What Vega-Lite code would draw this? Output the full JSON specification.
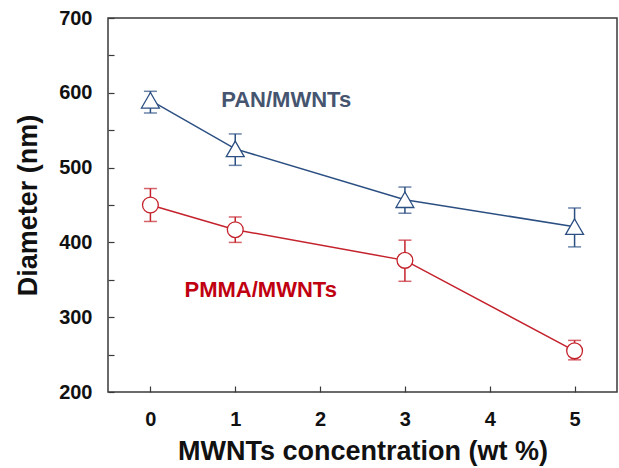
{
  "$schema": "https://vega.github.io/schema/vega-lite/v6.json",
  "width": 509,
  "height": 374,
  "autosize": {"type": "none"},
  "padding": {"left": 108, "top": 18, "right": 2, "bottom": 76},
  "background": "white",
  "config": {
    "view": {"stroke": "#3a3a3a", "strokeWidth": 1.5},
    "font": "Liberation Sans"
  },
  "datasets": {
    "pts": [
      {"series": "PAN/MWNTs", "conc": 0, "d": 590, "lo": 573, "hi": 602},
      {"series": "PAN/MWNTs", "conc": 1, "d": 525, "lo": 503, "hi": 545},
      {"series": "PAN/MWNTs", "conc": 3, "d": 457, "lo": 439, "hi": 474},
      {"series": "PAN/MWNTs", "conc": 5, "d": 421, "lo": 394, "hi": 446},
      {"series": "PMMA/MWNTs", "conc": 0, "d": 450, "lo": 428, "hi": 472},
      {"series": "PMMA/MWNTs", "conc": 1, "d": 417, "lo": 400, "hi": 434},
      {"series": "PMMA/MWNTs", "conc": 3, "d": 376, "lo": 348, "hi": 403},
      {"series": "PMMA/MWNTs", "conc": 5, "d": 255, "lo": 243, "hi": 269}
    ],
    "labels": [
      {"series": "PAN/MWNTs", "conc": 1.6, "d": 590},
      {"series": "PMMA/MWNTs", "conc": 1.3, "d": 336}
    ]
  },
  "encoding": {
    "x": {
      "field": "conc", "type": "quantitative",
      "scale": {"domain": [-0.5, 5.5], "nice": false, "zero": false},
      "axis": {
        "title": "MWNTs concentration (wt %)",
        "values": [0, 0.5, 1, 1.5, 2, 2.5, 3, 3.5, 4, 4.5, 5],
        "format": "d",
        "labelExpr": "datum.value % 1 === 0 ? datum.label : ''",
        "grid": false, "domain": false,
        "tickSize": -6, "tickColor": "#3a3a3a", "tickWidth": 1.2,
        "labelPadding": 23, "labelFontSize": 20, "labelFontWeight": "bold", "labelColor": "#111",
        "titleFontSize": 27, "titleFontWeight": "bold", "titleColor": "#111", "titlePadding": 9
      }
    },
    "y": {
      "field": "d", "type": "quantitative",
      "scale": {"domain": [200, 700], "nice": false, "zero": false},
      "axis": {
        "title": "Diameter (nm)",
        "values": [200, 250, 300, 350, 400, 450, 500, 550, 600, 650, 700],
        "labelExpr": "datum.value % 100 === 0 ? datum.label : ''",
        "grid": false, "domain": false,
        "tickSize": -6, "tickColor": "#3a3a3a", "tickWidth": 1.2,
        "labelPadding": 22, "labelFontSize": 20, "labelFontWeight": "bold", "labelColor": "#111",
        "titleFontSize": 27, "titleFontWeight": "bold", "titleColor": "#111", "titlePadding": 16
      }
    },
    "color": {
      "field": "series", "type": "nominal",
      "scale": {"domain": ["PAN/MWNTs", "PMMA/MWNTs"], "range": ["#2b4f82", "#c4222c"]},
      "legend": null
    }
  },
  "layer": [
    {
      "data": {"name": "pts"},
      "mark": {"type": "line", "strokeWidth": 1.5},
      "encoding": {"detail": {"field": "series"}}
    },
    {
      "data": {"name": "pts"},
      "mark": {"type": "errorbar", "ticks": {"size": 13}, "thickness": 1.5},
      "encoding": {
        "y": {"field": "lo", "type": "quantitative"},
        "y2": {"field": "hi"}
      }
    },
    {
      "data": {"name": "pts"},
      "mark": {"type": "point", "filled": true, "fill": "white", "strokeWidth": 1.3, "opacity": 1},
      "encoding": {
        "shape": {
          "field": "series", "type": "nominal",
          "scale": {"domain": ["PAN/MWNTs", "PMMA/MWNTs"], "range": ["triangle-up", "circle"]},
          "legend": null
        },
        "size": {
          "field": "series", "type": "nominal",
          "scale": {"domain": ["PAN/MWNTs", "PMMA/MWNTs"], "range": [320, 250]},
          "legend": null
        },
        "stroke": {
          "field": "series", "type": "nominal",
          "scale": {"domain": ["PAN/MWNTs", "PMMA/MWNTs"], "range": ["#2b4f82", "#c4222c"]},
          "legend": null
        },
        "fill": {"value": "white"}
      }
    },
    {
      "data": {"name": "labels"},
      "mark": {"type": "text", "fontSize": 22, "fontWeight": "bold", "align": "center", "baseline": "middle"},
      "encoding": {
        "text": {"field": "series"},
        "color": {
          "field": "series", "type": "nominal",
          "scale": {"domain": ["PAN/MWNTs", "PMMA/MWNTs"], "range": ["#46556f", "#c00010"]},
          "legend": null
        }
      }
    }
  ],
  "resolve": {"scale": {"color": "independent"}}
}
